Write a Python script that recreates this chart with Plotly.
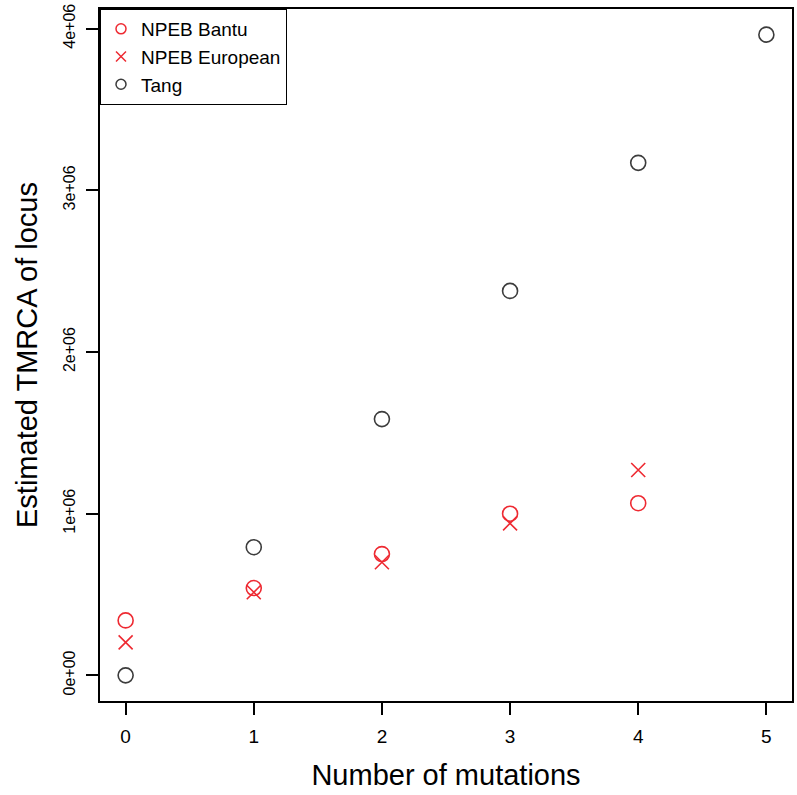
import plotly.graph_objects as go

mutations = [0, 1, 2, 3, 4, 5]
bantu_x = [0, 1, 2, 3, 4]
bantu_tmrca = [0.34e6, 0.54e6, 0.75e6, 1.00e6, 1.065e6]
european_x = [0, 1, 2, 3, 4]
european_tmrca = [0.204e6, 0.514e6, 0.70e6, 0.94e6, 1.27e6]
tang_tmrca = [0.0, 0.7925e6, 1.585e6, 2.378e6, 3.17e6, 3.963e6]

y_tickvals = [0, 1e6, 2e6, 3e6, 4e6]
y_ticktext = ["0e+00", "1e+06", "2e+06", "3e+06", "4e+06"]
x_tickvals = [0, 1, 2, 3, 4, 5]

RED = "#ee2a32"
GREY = "#3c3c3c"
FONT = "Liberation Sans, Arial, sans-serif"

fig = go.Figure()
fig.add_trace(go.Scatter(x=bantu_x, y=bantu_tmrca, mode="markers", showlegend=False,
                         marker=dict(symbol="circle-open", size=15, color=RED, line=dict(width=1.6, color=RED))))
fig.add_trace(go.Scatter(x=european_x, y=european_tmrca, mode="markers", showlegend=False,
                         marker=dict(symbol="x-thin-open", size=14, color=RED, line=dict(width=1.6, color=RED))))
fig.add_trace(go.Scatter(x=mutations, y=tang_tmrca, mode="markers", showlegend=False,
                         marker=dict(symbol="circle-open", size=15, color=GREY, line=dict(width=1.6, color=GREY))))

# legend entries (smaller symbols as in the original)
fig.add_trace(go.Scatter(x=[None], y=[None], mode="markers", name="NPEB Bantu",
                         marker=dict(symbol="circle-open", size=10, color=RED, line=dict(width=1.5, color=RED))))
fig.add_trace(go.Scatter(x=[None], y=[None], mode="markers", name="NPEB European",
                         marker=dict(symbol="x-thin-open", size=10, color=RED, line=dict(width=1.5, color=RED))))
fig.add_trace(go.Scatter(x=[None], y=[None], mode="markers", name="Tang",
                         marker=dict(symbol="circle-open", size=10, color=GREY, line=dict(width=1.5, color=GREY))))

axis_common = dict(showline=True, mirror=True, linecolor="black", linewidth=1.5,
                   ticks="outside", ticklen=12, tickwidth=1.5, tickcolor="black",
                   showgrid=False, zeroline=False, automargin=False,
                   ticklabeloverflow="allow")

fig.update_layout(
    width=797, height=795,
    margin=dict(l=100, r=5, t=9, b=94),
    paper_bgcolor="white", plot_bgcolor="white",
    font=dict(family=FONT, color="black"),
    xaxis=dict(range=[-0.2, 5.2], tickvals=x_tickvals, ticklabelstandoff=5,
               tickfont=dict(family=FONT, size=19, color="black"),
               title=dict(text="Number of mutations", font=dict(family=FONT, size=29), standoff=19),
               **axis_common),
    yaxis=dict(range=[-0.1585e6, 4.1215e6], tickvals=y_tickvals, ticktext=y_ticktext, tickangle=-90,
               ticklabelstandoff=5,
               tickfont=dict(family=FONT, size=16, color="black"),
               title=dict(text="Estimated TMRCA of locus", font=dict(family=FONT, size=29), standoff=15),
               **axis_common),
    legend=dict(x=0, y=1, xanchor="left", yanchor="top", bgcolor="white",
                bordercolor="black", borderwidth=1,
                font=dict(family=FONT, size=19, color="black"),
                itemwidth=30, tracegroupgap=0),
)

# remove the default 8px body margin so the figure fills the window exactly
fig.write_html("out.html", config={"displayModeBar": False},
               post_script="document.body.style.margin='0';")
